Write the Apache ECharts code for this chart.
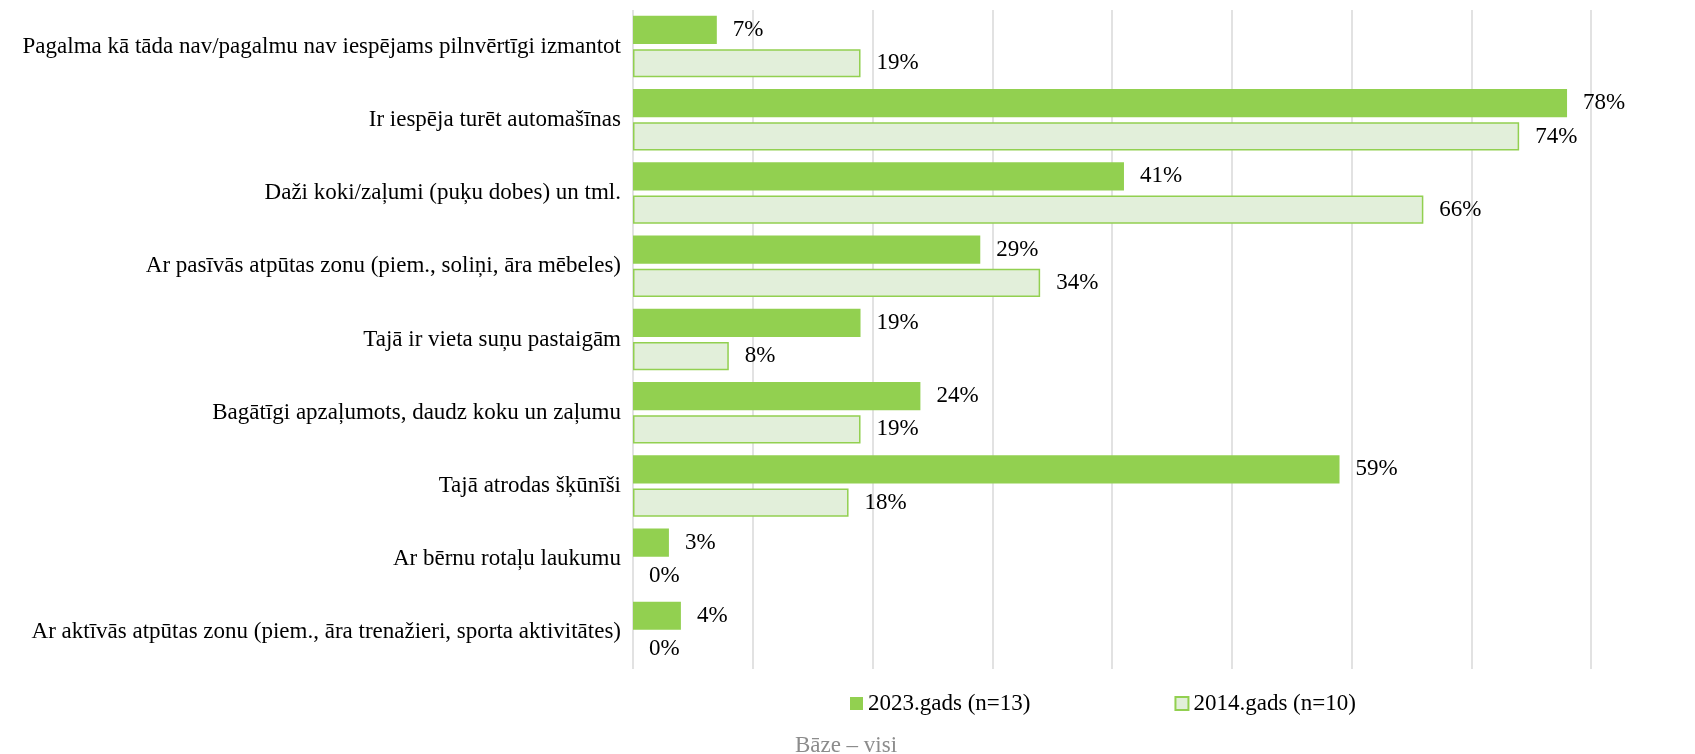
<!DOCTYPE html>
<html>
<head>
<meta charset="utf-8">
<script src="https://cdn.jsdelivr.net/npm/echarts@6/dist/echarts.min.js"></script>
<style>html,body{margin:0;padding:0;background:#fff}#c{width:1695px;height:754px}</style>
</head>
<body>
<div id="c"></div>
<script>
const categories = [
  "Pagalma kā tāda nav/pagalmu nav iespējams pilnvērtīgi izmantot",
  "Ir iespēja turēt automašīnas",
  "Daži koki/zaļumi (puķu dobes) un tml.",
  "Ar pasīvās atpūtas zonu (piem., soliņi, āra mēbeles)",
  "Tajā ir vieta suņu pastaigām",
  "Bagātīgi apzaļumots, daudz koku un zaļumu",
  "Tajā atrodas šķūnīši",
  "Ar bērnu rotaļu laukumu",
  "Ar aktīvās atpūtas zonu (piem., āra trenažieri, sporta aktivitātes)"
];
const values2023 = [7, 78, 41, 29, 19, 24, 59, 3, 4];
const values2014 = [19, 74, 66, 34, 8, 19, 18, 0, 0];
const seriesNames = ["2023.gads (n=13)", "2014.gads (n=10)"];
const baseText = "Bāze – visi";

const font = "'Liberation Serif', 'Times New Roman', serif";
const chart = echarts.init(document.getElementById('c'));
const labelCfg = {
  show: true, position: 'right', distance: 16,
  formatter: p => p.value + '%',
  color: '#000', fontFamily: font, fontSize: 23
};
chart.setOption({
  animation: false,
  title: {
    text: baseText, left: 841, top: 729, textAlign: 'center',
    textStyle: { color: '#8c8c8c', fontFamily: font, fontSize: 23, fontWeight: 'normal' }
  },
  legend: {
    left: 845, top: 687, itemGap: 144, itemWidth: 13, itemHeight: 13,
    icon: 'rect',
    textStyle: { color: '#000', fontFamily: font, fontSize: 23 },
    data: seriesNames
  },
  grid: { left: 633, right: 104, top: 10, bottom: 85 },
  xAxis: {
    type: 'value', min: 0, max: 80, interval: 10,
    axisLabel: { show: false }, axisLine: { show: false }, axisTick: { show: false },
    splitLine: { show: true, lineStyle: { color: '#d9d9d9', width: 1.5 } }
  },
  yAxis: {
    type: 'category', data: categories, inverse: true,
    axisLine: { show: false }, axisTick: { show: false },
    axisLabel: { color: '#000', fontFamily: font, fontSize: 23, margin: 12 }
  },
  series: [
    {
      name: seriesNames[0], type: 'bar', data: values2023,
      barCategoryGap: '16%', barGap: '18%',
      itemStyle: { color: '#92d050' },
      label: labelCfg
    },
    {
      name: seriesNames[1], type: 'bar',
      data: values2014.map(v => v === 0 ? { value: v, itemStyle: { borderWidth: 0 } } : v),
      barCategoryGap: '16%', barGap: '18%',
      itemStyle: { color: '#e2efda', borderColor: '#92d050', borderWidth: 1.5 },
      label: labelCfg
    }
  ]
});
</script>
</body>
</html>
